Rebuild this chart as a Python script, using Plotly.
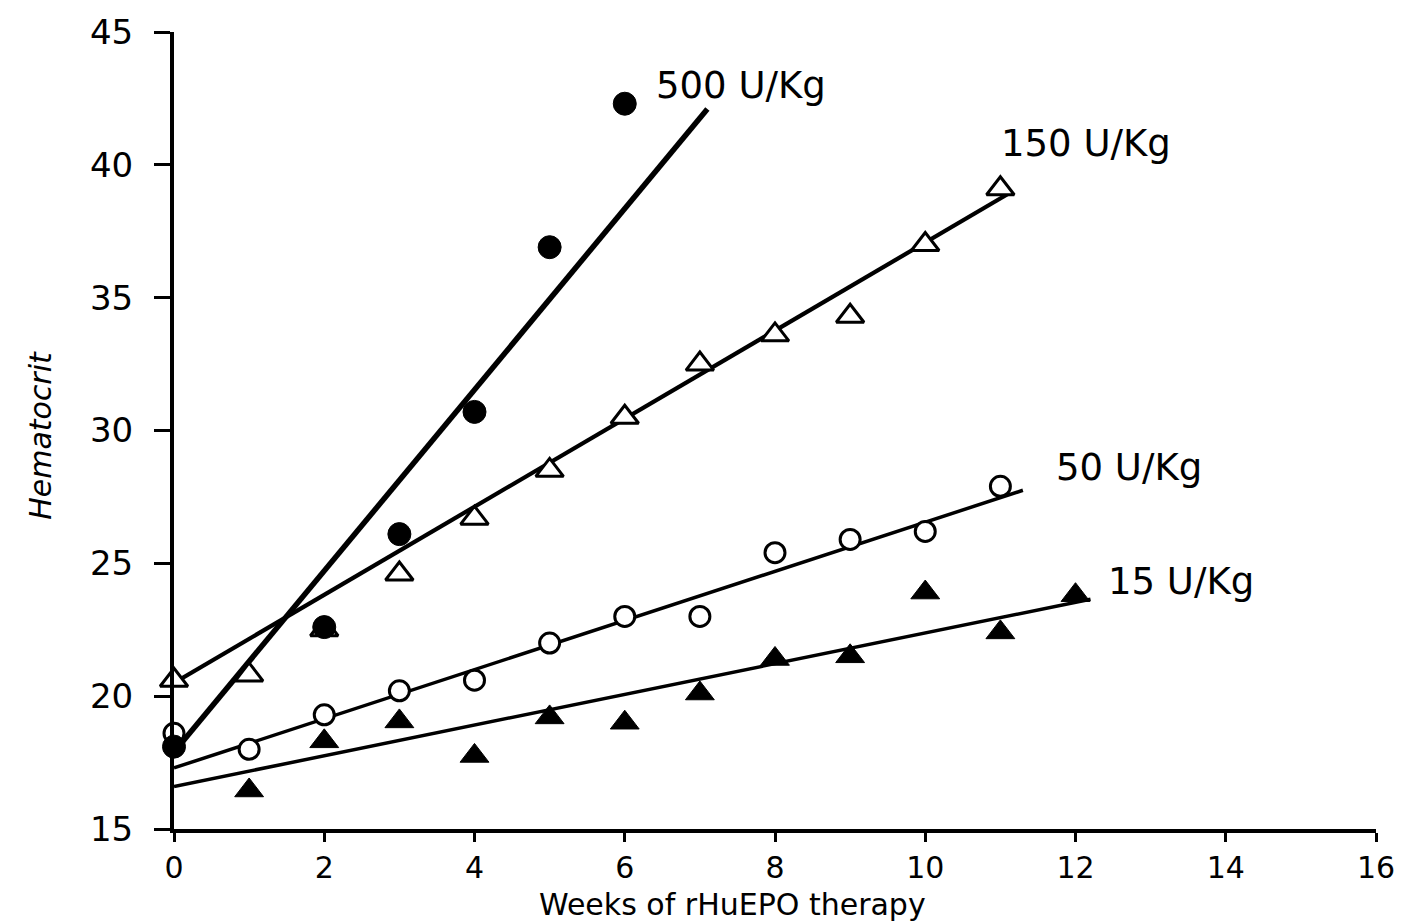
import plotly.graph_objects as go

# Data
weeks_500 = [0, 2, 3, 4, 5, 6]
hct_500 = [18.1, 22.6, 26.1, 30.7, 36.9, 42.3]
fit_500_x = [0, 7.1]
fit_500_y = [17.9, 42.1]

weeks_150 = [0, 1, 2, 3, 4, 5, 6, 7, 8, 9, 10, 11]
hct_150 = [20.6, 20.8, 22.5, 24.6, 26.7, 28.5, 30.5, 32.5, 33.6, 34.3, 37.0, 39.1]
fit_150_x = [0, 11.1]
fit_150_y = [20.5, 38.9]

weeks_50 = [0, 1, 2, 3, 4, 5, 6, 7, 8, 9, 10, 11]
hct_50 = [18.6, 18.0, 19.3, 20.2, 20.6, 22.0, 23.0, 23.0, 25.4, 25.9, 26.2, 27.9]
fit_50_x = [0, 11.3]
fit_50_y = [17.3, 27.75]

weeks_15 = [1, 2, 3, 4, 5, 6, 7, 8, 9, 10, 11, 12]
hct_15 = [16.45, 18.3, 19.05, 17.75, 19.2, 19.0, 20.1, 21.4, 21.5, 23.9, 22.4, 23.8]
fit_15_x = [0, 12.2]
fit_15_y = [16.6, 23.65]

labels = ["500 U/Kg", "150 U/Kg", "50 U/Kg", "15 U/Kg"]
label_x = [6.39, 10.98, 11.71, 12.41]
label_y = [43.0, 40.8, 28.6, 24.3]

x_ticks = [0, 2, 4, 6, 8, 10, 12, 14, 16]
y_ticks = [15, 20, 25, 30, 35, 40, 45]

FONT = "DejaVu Sans"
fig = go.Figure()

def fit(x, y, w):
    fig.add_trace(go.Scatter(x=x, y=y, mode="lines", line=dict(color="black", width=w),
                             showlegend=False, hoverinfo="skip"))

fit(fit_500_x, fit_500_y, 5.5)
fit(fit_150_x, fit_150_y, 4.2)
fit(fit_50_x, fit_50_y, 3.5)
fit(fit_15_x, fit_15_y, 3.5)

fig.add_trace(go.Scatter(x=weeks_15, y=hct_15, mode="markers", showlegend=False,
                         marker=dict(symbol="triangle-up", size=25, color="black",
                                     line=dict(color="black", width=1))))
fig.add_trace(go.Scatter(x=weeks_50, y=hct_50, mode="markers", showlegend=False,
                         marker=dict(symbol="circle", size=20, color="white",
                                     line=dict(color="black", width=3))))
fig.add_trace(go.Scatter(x=weeks_150, y=hct_150, mode="markers", showlegend=False,
                         marker=dict(symbol="triangle-up", size=24, color="white",
                                     line=dict(color="black", width=3))))
fig.add_trace(go.Scatter(x=weeks_500, y=hct_500, mode="markers", showlegend=False,
                         marker=dict(symbol="circle", size=23, color="black",
                                     line=dict(color="black", width=1))))

for t, x, y in zip(labels, label_x, label_y):
    fig.add_annotation(x=x, y=y, text=t, showarrow=False, xanchor="left", yanchor="middle",
                       font=dict(family=FONT, size=37, color="black"))

fig.add_annotation(xref="paper", yref="paper", x=0.465, y=-0.095, text="Weeks of rHuEPO therapy",
                   showarrow=False, xanchor="center", yanchor="middle",
                   font=dict(family=FONT, size=30, color="black"))
fig.add_annotation(xref="paper", yref="paper", x=-0.111, y=0.494, text="<i>Hematocrit</i>",
                   showarrow=False, textangle=-90, xanchor="center", yanchor="middle",
                   font=dict(family=FONT, size=30, color="black"))

fig.update_xaxes(range=[0, 16], tickvals=x_ticks, ticktext=[str(v) for v in x_ticks],
                 showgrid=False, zeroline=False, showline=True, linecolor="black", linewidth=4,
                 ticks="outside", ticklen=9, tickwidth=3, tickcolor="black",
                 tickfont=dict(family=FONT, size=30, color="black"))
fig.update_yaxes(range=[15, 45], tickvals=y_ticks, ticktext=[str(v) for v in y_ticks],
                 showgrid=False, zeroline=False, showline=True, linecolor="black", linewidth=4,
                 ticks="outside", ticklen=16, tickwidth=3, tickcolor="black",
                 ticklabelstandoff=14,
                 tickfont=dict(family=FONT, size=34, color="black"))

fig.update_layout(width=1407, height=924, margin=dict(l=174, r=29, t=22, b=95),
                  plot_bgcolor="white", paper_bgcolor="white")
fig.update_traces(cliponaxis=False)
fig.write_html("out.html")
